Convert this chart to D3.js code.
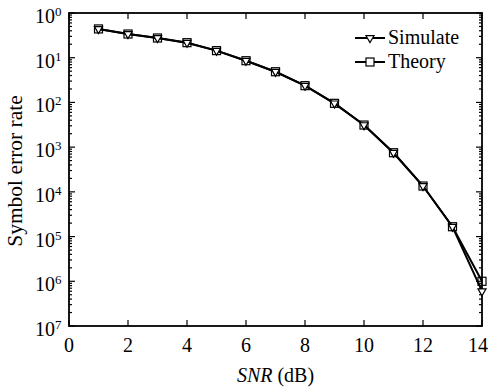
<!DOCTYPE html>
<html>
<head>
<meta charset="utf-8">
<script src="https://cdn.jsdelivr.net/npm/d3@7"></script>
<style>
  body { margin: 0; background: #fff; }
  text { font-family: "Liberation Serif", "Times New Roman", serif; fill: #000; }
</style>
</head>
<body>
<div id="chart"></div>
<script>
// values
const snr = [1, 2, 3, 4, 5, 6, 7, 8, 9, 10, 11, 12, 13, 14];
const simulate = [0.44, 0.339, 0.276, 0.217, 0.144, 0.0857, 0.0486, 0.0237, 0.00955, 0.00312, 7.5e-4, 1.35e-4, 1.66e-5, 6.0e-7];
const theory   = [0.44, 0.339, 0.276, 0.217, 0.144, 0.0857, 0.0486, 0.0237, 0.00955, 0.00312, 7.5e-4, 1.35e-4, 1.66e-5, 1.0e-6];
const xTicks = [0, 2, 4, 6, 8, 10, 12, 14];
const yExp = [0, 1, 2, 3, 4, 5, 6, 7]; // exponents as printed on the axis
const seriesNames = ["Simulate", "Theory"];

const width = 488, height = 387;
const margin = {top: 13, right: 6, bottom: 61, left: 69};

const svg = d3.select("#chart").append("svg")
  .attr("width", width)
  .attr("height", height);

const x = d3.scaleLinear().domain([0, 14]).range([margin.left, width - margin.right]);
const y = d3.scaleLog().domain([1e-7, 1]).range([height - margin.bottom, margin.top]);

const x0 = margin.left, x1 = width - margin.right, y0 = height - margin.bottom, y1 = margin.top;

// ticks, inward on all four sides
const tickG = svg.append("g").attr("stroke", "#000").attr("stroke-width", 1.2);
for (const t of xTicks) {
  tickG.append("line").attr("x1", x(t)).attr("x2", x(t)).attr("y1", y0).attr("y2", y0 - 6);
  tickG.append("line").attr("x1", x(t)).attr("x2", x(t)).attr("y1", y1).attr("y2", y1 + 6);
}
const minor = [];
for (let e = 0; e < 7; e++) {
  for (let m = 2; m <= 9; m++) minor.push(m * Math.pow(10, -(e + 1)));
}
for (const v of minor) {
  tickG.append("line").attr("x1", x0).attr("x2", x0 + 3).attr("y1", y(v)).attr("y2", y(v));
  tickG.append("line").attr("x1", x1).attr("x2", x1 - 3).attr("y1", y(v)).attr("y2", y(v));
}
for (const e of yExp) {
  const v = Math.pow(10, -e);
  tickG.append("line").attr("x1", x0).attr("x2", x0 + 6).attr("y1", y(v)).attr("y2", y(v));
  tickG.append("line").attr("x1", x1).attr("x2", x1 - 6).attr("y1", y(v)).attr("y2", y(v));
}

// frame
svg.append("rect")
  .attr("x", x0).attr("y", y1)
  .attr("width", x1 - x0).attr("height", y0 - y1)
  .attr("fill", "none").attr("stroke", "#000").attr("stroke-width", 1.8);

// x tick labels
svg.append("g").selectAll("text")
  .data(xTicks)
  .join("text")
  .attr("x", d => Math.min(x(d), width - 10))
  .attr("y", y0 + 26)
  .attr("text-anchor", "middle")
  .attr("font-size", 20)
  .text(d => d);

// y tick labels
const yl = svg.append("g").selectAll("text")
  .data(yExp)
  .join("text")
  .attr("x", x0 - 34)
  .attr("y", d => y(Math.pow(10, -d)) + 10)
  .attr("font-size", 20);
yl.append("tspan").text("10");
yl.append("tspan").attr("dy", -7).attr("font-size", 13).text(d => d);

// axis titles
const xt = svg.append("text")
  .attr("x", (x0 + x1) / 2)
  .attr("y", 382)
  .attr("text-anchor", "middle")
  .attr("font-size", 20);
xt.append("tspan").attr("font-style", "italic").text("SNR");
xt.append("tspan").text(" (dB)");

svg.append("text")
  .attr("transform", "translate(22,171) rotate(-90)")
  .attr("text-anchor", "middle")
  .attr("font-size", 21.5)
  .text("Symbol error rate");

// lines
const line = d3.line().x((d, i) => x(snr[i])).y(d => y(d));
const allSeries = [simulate, theory];
svg.append("g")
  .selectAll("path")
  .data(allSeries)
  .join("path")
  .attr("d", line)
  .attr("fill", "none")
  .attr("stroke", "#000")
  .attr("stroke-width", 2);

// markers
const tri = d3.symbol().type(d3.symbolTriangle).size(28);
svg.append("g").selectAll("path")
  .data(simulate)
  .join("path")
  .attr("d", tri)
  .attr("transform", (d, i) => `translate(${x(snr[i])},${y(d)}) rotate(180)`)
  .attr("fill", "#fff").attr("stroke", "#000").attr("stroke-width", 1.2);

svg.append("g").selectAll("rect")
  .data(theory)
  .join("rect")
  .attr("x", (d, i) => x(snr[i]) - 4)
  .attr("y", d => y(d) - 4)
  .attr("width", 8).attr("height", 8)
  .attr("fill", "none").attr("stroke", "#000").attr("stroke-width", 1.2);

// legend
const legend = svg.append("g").selectAll("g")
  .data(seriesNames)
  .join("g")
  .attr("transform", (d, i) => `translate(355,${38 + i * 24})`);
legend.append("line")
  .attr("x1", 0).attr("x2", 30)
  .attr("stroke", "#000").attr("stroke-width", 2);
legend.filter((d, i) => i === 0).append("path")
  .attr("d", tri)
  .attr("transform", "translate(15,0) rotate(180)")
  .attr("fill", "#fff").attr("stroke", "#000").attr("stroke-width", 1.2);
legend.filter((d, i) => i === 1).append("rect")
  .attr("x", 11).attr("y", -4).attr("width", 8).attr("height", 8)
  .attr("fill", "#fff").attr("stroke", "#000").attr("stroke-width", 1.2);
legend.append("text")
  .attr("x", 33)
  .attr("y", 6)
  .attr("font-size", 20)
  .text(d => d);
</script>
</body>
</html>
